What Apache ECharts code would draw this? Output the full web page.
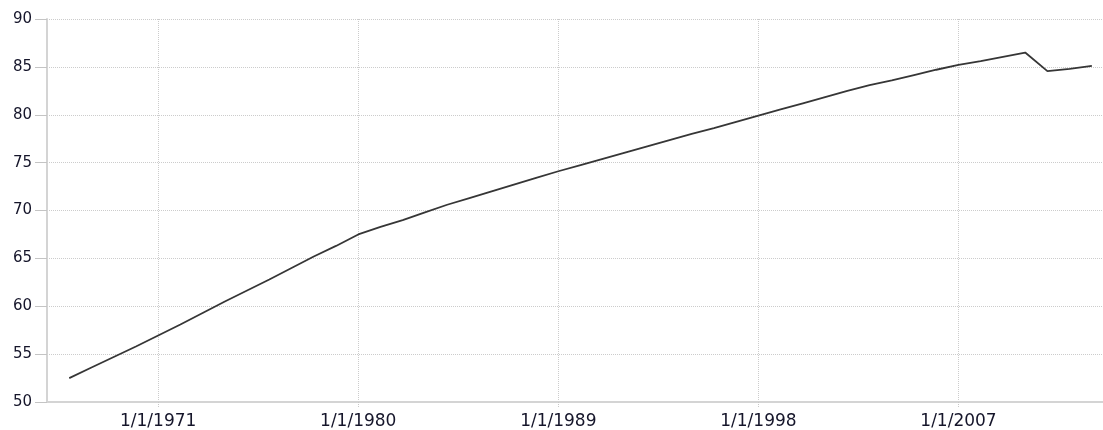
<!DOCTYPE html>
<html>
<head>
<meta charset="utf-8">
<script src="https://cdn.jsdelivr.net/npm/echarts@6/dist/echarts.min.js"></script>
<style>
  html, body { margin: 0; padding: 0; background: #fff; }
  #chart { width: 1103px; height: 430px; }
</style>
</head>
<body>
<div id="chart"></div>
<script>
const years = [
  1967, 1968, 1969, 1970, 1971, 1972, 1973, 1974, 1975, 1976,
  1977, 1978, 1979, 1980, 1981, 1982, 1983, 1984, 1985, 1986,
  1987, 1988, 1989, 1990, 1991, 1992, 1993, 1994, 1995, 1996,
  1997, 1998, 1999, 2000, 2001, 2002, 2003, 2004, 2005, 2006,
  2007, 2008, 2009, 2010, 2011, 2012, 2013
];
const values = [
  52.5, 53.6, 54.7, 55.8, 56.95, 58.1, 59.3, 60.5, 61.65, 62.8,
  64.0, 65.2, 66.3, 67.5, 68.3, 69.0, 69.8, 70.6, 71.3, 72.0,
  72.7, 73.4, 74.1, 74.75, 75.4, 76.05, 76.7, 77.35, 78.0, 78.6,
  79.25, 79.9, 80.55, 81.2, 81.85, 82.5, 83.1, 83.6, 84.15, 84.7,
  85.2, 85.6, 86.05, 86.5, 84.55, 84.8, 85.1
];
const xTicks = [1971, 1980, 1989, 1998, 2007];

const textFont = '"DejaVu Sans", Verdana, sans-serif';

const option = {
  animation: false,
  grid: {
    top: 19,
    left: 47,
    right: 0,
    bottom: 27,
  },
  xAxis: {
    type: "value",
    min: 1966,
    max: 2013.5,
    axisLine: {
      lineStyle: { color: "#d4d4d4", width: 2 },
    },
    axisTick: {
      show: true,
      customValues: xTicks,
      length: 5,
      lineStyle: { color: "#c8c8c8", type: "dotted" },
    },
    axisLabel: {
      customValues: xTicks,
      margin: 11,
      color: "#15152a",
      fontSize: 17,
      fontFamily: textFont,
      formatter: (v) => "1/1/" + v,
    },
    splitLine: {
      show: true,
      lineStyle: { color: "#cccccc", type: "dotted" },
    },
  },
  yAxis: {
    type: "value",
    min: 50,
    max: 90,
    interval: 5,
    axisLine: {
      show: true,
      lineStyle: { color: "#d4d4d4", width: 2 },
    },
    axisTick: {
      show: true,
      length: 12,
      lineStyle: { color: "#c4c4c4", width: 1 },
    },
    axisLabel: {
      margin: 15,
      color: "#15152a",
      fontSize: 15,
      fontFamily: textFont,
    },
    splitLine: {
      lineStyle: { color: "#cccccc", type: "dotted" },
    },
  },
  series: [
    {
      type: "line",
      data: years.map((y, i) => [y, values[i]]),
      showSymbol: false,
      lineStyle: { color: "#363636", width: 1.8 },
    },
  ],
};

const myChart = echarts.init(document.getElementById("chart"));
myChart.setOption(option);
</script>
</body>
</html>
